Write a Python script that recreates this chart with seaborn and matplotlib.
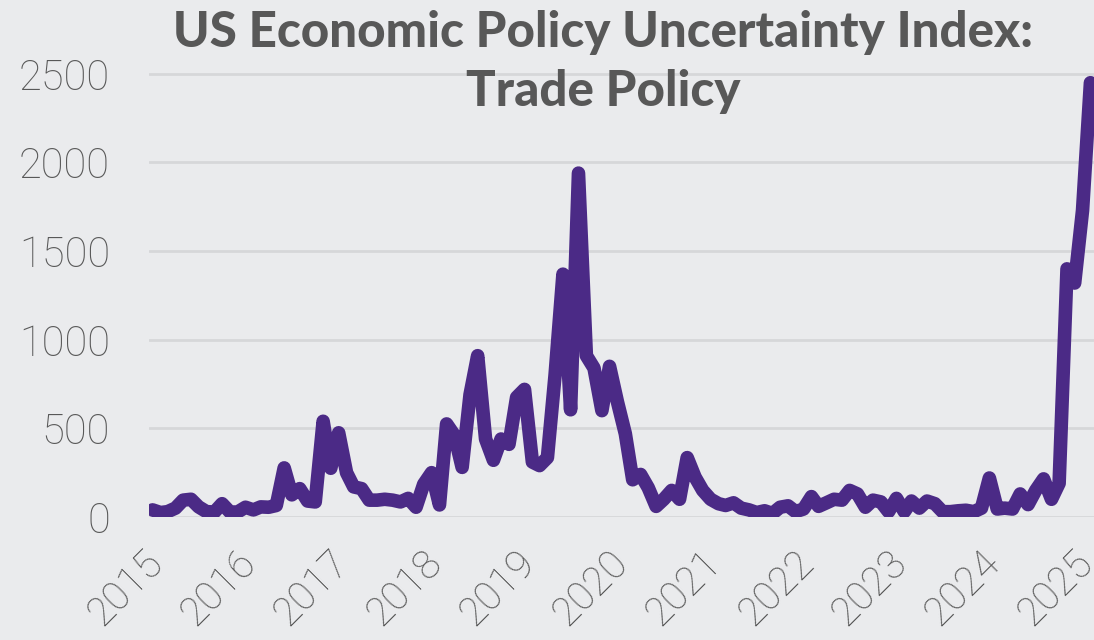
import matplotlib
matplotlib.use("Agg")
import matplotlib.pyplot as plt
import matplotlib.transforms as mtrans
import seaborn as sns
import pandas as pd
import numpy as np

# monthly trade policy uncertainty index, Jan 2015 - Feb 2025
start_month = "2015-01-01"
vals_2015 = [40, 25, 30, 50, 95, 100, 57, 30, 28, 75, 28, 28]
vals_2016 = [55, 40, 57, 55, 65, 277, 125, 160, 90, 85, 540, 275]
vals_2017 = [475, 250, 170, 160, 95, 95, 100, 95, 85, 105, 55, 185]
vals_2018 = [250, 68, 525, 460, 280, 690, 910, 440, 320, 440, 410, 675]
vals_2019 = [720, 310, 290, 335, 800, 1370, 605, 1940, 910, 840, 600, 850]
vals_2020 = [650, 470, 210, 240, 165, 60, 100, 150, 100, 335, 225, 150]
vals_2021 = [100, 75, 65, 80, 50, 40, 25, 35, 20, 55, 63, 30]
vals_2022 = [45, 115, 60, 80, 100, 95, 150, 130, 55, 95, 85, 30]
vals_2023 = [105, 30, 90, 50, 90, 75, 30, 30, 35, 38, 30, 50]
vals_2024 = [220, 45, 50, 45, 130, 70, 150, 215, 100, 190, 1400, 1320]
vals_2025 = [1730, 2450]

title = "US Economic Policy Uncertainty Index:\nTrade Policy"
y_ticks = [0, 500, 1000, 1500, 2000, 2500]
x_years = list(range(2015, 2026))

values = (vals_2015 + vals_2016 + vals_2017 + vals_2018 + vals_2019 + vals_2020
          + vals_2021 + vals_2022 + vals_2023 + vals_2024 + vals_2025)
# points sit mid-month
dates = pd.date_range(start_month, periods=len(values), freq="MS") + pd.Timedelta(days=14)
df = pd.DataFrame({"date": dates, "index": values})

bg = "#eaebed"
purple = "#4b2a86"
grid_c = "#d6d7d9"
text_c = "#585858"

sns.set_style("white")
plt.rcParams["font.family"] = ["Roboto", "DejaVu Sans"]

fig = plt.figure(figsize=(10.94, 6.4), dpi=100)
fig.patch.set_facecolor(bg)
ax = fig.add_axes([0.1362, 0.1922, 0.8638, 0.709])
ax.set_facecolor(bg)

sns.lineplot(data=df, x="date", y="index", ax=ax, color=purple, linewidth=9.8,
             solid_capstyle="round", solid_joinstyle="round")

ax.set_ylim(0, 2560)
ax.set_xlim(pd.Timestamp("2015-01-01"), pd.Timestamp("2025-03-01"))
ax.set_yticks(y_ticks)
ax.set_yticklabels([str(v) for v in y_ticks])
ax.set_xticks([pd.Timestamp(f"{y}-01-01") for y in x_years])
ax.set_xticklabels([str(y) for y in x_years], rotation=45, ha="right", va="top",
                   rotation_mode="anchor")
ax.set_xlabel("")
ax.set_ylabel("")

ax.set_axisbelow(True)
ax.yaxis.grid(True, color=grid_c, linewidth=2)
ax.xaxis.grid(False)
for s in ax.spines.values():
    s.set_visible(False)

ax.tick_params(axis="y", length=0, pad=28, labelsize=30, labelcolor=text_c)
ax.tick_params(axis="x", length=9, width=1.5, color=grid_c, pad=10,
               labelsize=29, labelcolor=text_c)
shift = mtrans.ScaledTranslation(-4 / 72, 0, fig.dpi_scale_trans)
for lab in ax.get_xticklabels():
    lab.set_fontweight("light")
    lab.set_transform(lab.get_transform() + shift)
for lab in ax.get_yticklabels():
    lab.set_fontweight("light")

fig.text(0.551, 0.985, title, ha="center", va="top", fontsize=35.5,
         fontweight="black", color=text_c, family=["Lato", "DejaVu Sans"],
         linespacing=1.38)

fig.savefig("out.png", dpi=100, facecolor=bg)
